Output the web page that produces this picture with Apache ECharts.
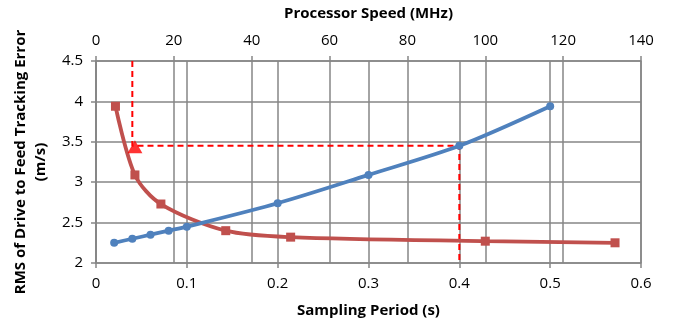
<!DOCTYPE html>
<html>
<head>
<meta charset="utf-8">
<script src="https://cdn.jsdelivr.net/npm/echarts@6/dist/echarts.min.js"></script>
<style>
  html, body { margin: 0; padding: 0; background: #fff; }
  #chart { width: 674px; height: 328px; }
</style>
</head>
<body>
<div id="chart"></div>
<script>
// blue: RMS error vs sampling period (bottom axis, s)
const periodX = [0.02, 0.04, 0.06, 0.08, 0.1, 0.2, 0.3, 0.4, 0.5];
const periodRms = [2.25, 2.30, 2.35, 2.40, 2.45, 2.74, 3.09, 3.45, 3.94];

// red: RMS error vs processor speed (top axis, MHz)
const speedX = [5, 10, 16.67, 33.33, 50, 100, 133.33];
const speedRms = [3.94, 3.09, 2.73, 2.40, 2.32, 2.27, 2.25];

// red triangle marker and dashed guide
const markerPoint = [10, 3.44];
const guideX = [0.04, 0.04, 0.4, 0.4];
const guideY = [4.5, 3.45, 3.45, 2];

const font = "'Liberation Sans Narrow', 'Open Sans', sans-serif";
const gridGray = '#868686';

const chart = echarts.init(document.getElementById('chart'));

const axisCommon = {
  axisLine: { show: true, lineStyle: { color: gridGray, width: 1.5 } },
  axisTick: { show: true, length: 5, lineStyle: { color: gridGray, width: 1.5 } },
  splitLine: { show: true, lineStyle: { color: gridGray, width: 1.5 } },
  axisLabel: { color: '#000', fontFamily: font, fontSize: 15, margin: 13 },
  nameTextStyle: { color: '#000', fontFamily: font, fontSize: 15, fontWeight: 'bold' }
};

chart.setOption({
  animation: false,
  grid: { left: 96, right: 33, top: 61, bottom: 65 },
  xAxis: [
    Object.assign({}, axisCommon, {
      type: 'value', position: 'bottom', min: 0, max: 0.6, interval: 0.1,
      name: 'Sampling Period (s)', nameLocation: 'middle', nameGap: 40
    }),
    Object.assign({}, axisCommon, {
      type: 'value', position: 'top', min: 0, max: 140, interval: 20,
      name: 'Processor Speed (MHz)', nameLocation: 'middle', nameGap: 40
    })
  ],
  yAxis: Object.assign({}, axisCommon, {
    type: 'value', min: 2, max: 4.5, interval: 0.5,
    name: 'RMS of Drive to Feed Tracking Error\n(m/s)',
    nameLocation: 'middle', nameRotate: 90, nameGap: 40,
    nameTextStyle: Object.assign({}, axisCommon.nameTextStyle, { lineHeight: 20 })
  }),
  series: [
    {
      type: 'line', xAxisIndex: 0,
      data: guideX.map((x, i) => [x, guideY[i]]),
      symbol: 'none', z: 1,
      lineStyle: { color: '#ff0000', width: 2, type: [6, 4] }
    },
    {
      type: 'line', xAxisIndex: 0,
      data: periodX.map((x, i) => [x, periodRms[i]]),
      smooth: 0.3, symbol: 'circle', symbolSize: 8,
      itemStyle: { color: '#4f81bd' },
      lineStyle: { color: '#4f81bd', width: 3.8 }, z: 3
    },
    {
      type: 'line', xAxisIndex: 1,
      data: speedX.map((x, i) => [x, speedRms[i]]),
      smooth: 0.3, symbol: 'rect', symbolSize: 9,
      itemStyle: { color: '#c0504d' },
      lineStyle: { color: '#c0504d', width: 3.8 }, z: 2
    },
    {
      type: 'scatter', xAxisIndex: 1,
      data: [markerPoint],
      symbol: 'triangle', symbolSize: [15, 13],
      itemStyle: { color: '#ff0000' }, z: 4
    }
  ]
});
</script>
</body>
</html>
